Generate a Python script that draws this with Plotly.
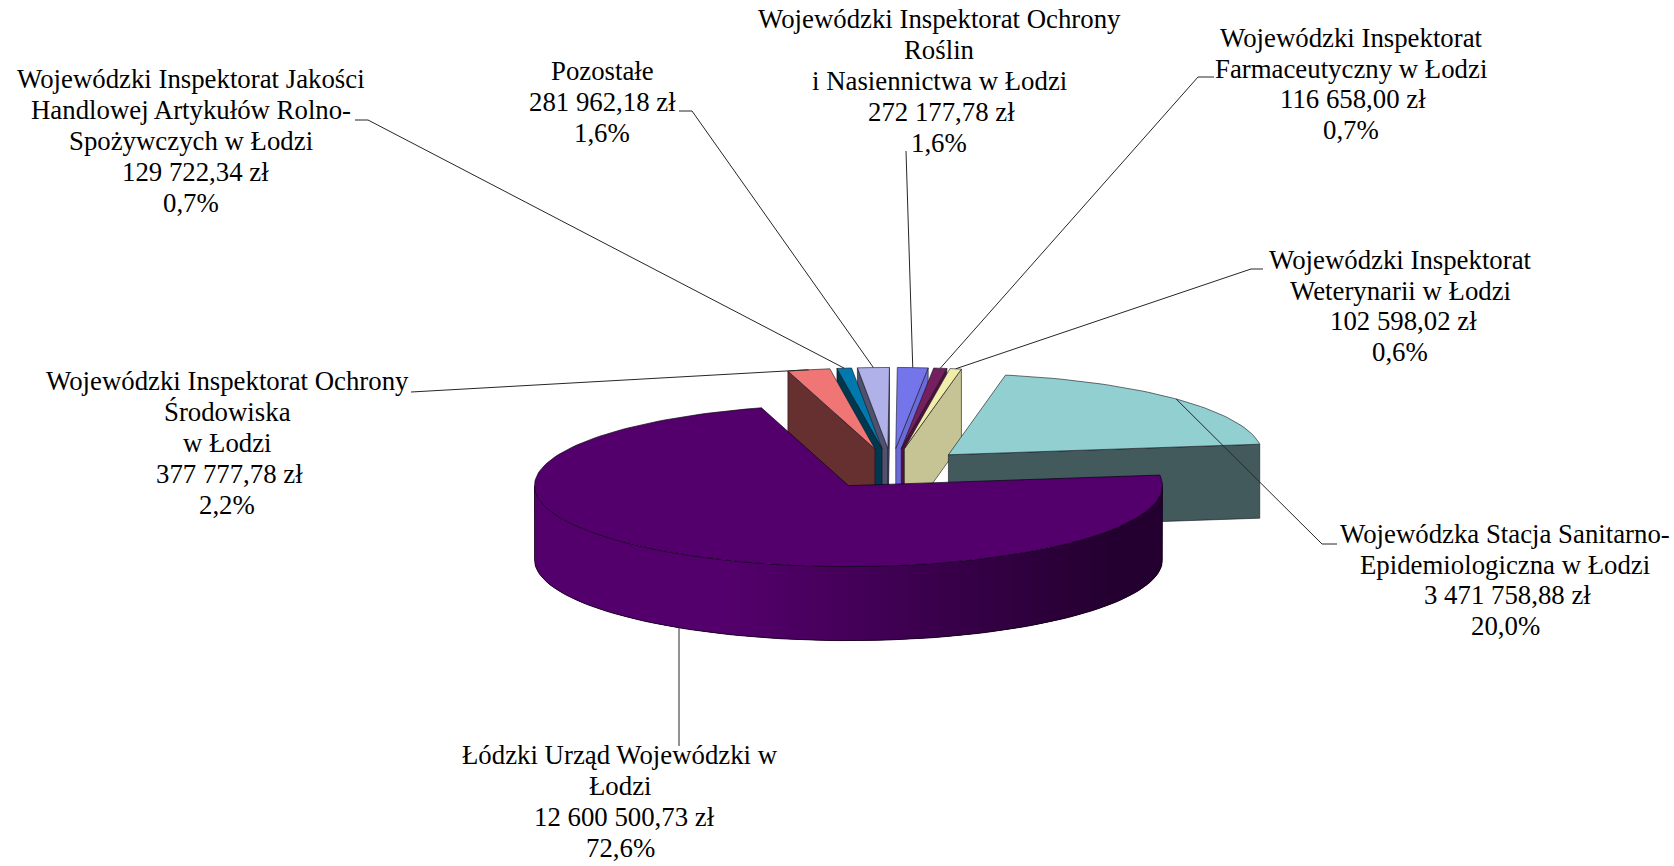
import numpy as np
import plotly.graph_objects as go

# ---------- data (clockwise order, starting from the first slice) ----------
names = [
    ["Łódzki Urząd Wojewódzki w", "Łodzi"],
    ["Wojewódzki Inspektorat Ochrony", "Środowiska", "w Łodzi"],
    ["Wojewódzki Inspektorat Jakości", "Handlowej Artykułów Rolno-", "Spożywczych w Łodzi"],
    ["Pozostałe"],
    ["Wojewódzki Inspektorat Ochrony", "Roślin", "i Nasiennictwa w Łodzi"],
    ["Wojewódzki Inspektorat", "Farmaceutyczny w Łodzi"],
    ["Wojewódzki Inspektorat", "Weterynarii w Łodzi"],
    ["Wojewódzka Stacja Sanitarno-", "Epidemiologiczna w Łodzi"],
]
amounts = [12600500.73, 377777.78, 129722.34, 281962.18, 272177.78, 116658.00, 102598.02, 3471758.88]
top_colors = ["#54006c", "#ef7674", "#0079ae", "#b1b1ea", "#7575eb", "#761f5f", "#f0eeaa", "#92cfd0"]
wall_colors = ["#54006c", "#663030", "#00384f", "#50506f", "#6a6ad8", "#4f1040", "#c6c494", "#425a5c"]

# ---------- chart geometry, in page pixels ----------
W, H = 1674, 866
CX, CY = 891.5, 468.7     # pie centre
A, B = 314.0, 81.0        # ellipse radii
DEPTH = 74.0
EXPLODE = 0.25
START = 7.5               # angle of the first slice edge, degrees
DRAW_ORDER = [3, 2, 1, 4, 5, 6, 7, 0]
EDGE = "rgba(20,20,30,0.6)"
FONT_SIZE = 26.8
LINE_STEP = 30.9

label_pos = [(620, 801.5), (227, 443), (191, 141), (602, 102), (939, 81), (1351, 84), (1400, 306), (1505, 580)]
amount_dx = [4, 2, 4, 0, 2, 2, 3, 2]
elbows = [
    [(679, 746)],
    [(411, 392)],
    [(368, 120), (355, 120)],
    [(692, 111), (679, 111)],
    [(906, 151)],
    [(1198, 77), (1214, 77)],
    [(1251, 269), (1263, 269)],
    [(1322, 544), (1337, 544)],
]

total = sum(amounts)
shares = [v / total for v in amounts]


def fmt_amount(v):
    s = f"{v:,.2f}".replace(",", " ").replace(".", ",")
    return s + " zł"


def fmt_share(s):
    return f"{s * 100:.1f}".replace(".", ",") + "%"


def pt(apex, deg, r=1.0):
    t = np.radians(deg)
    return apex[0] + r * A * np.cos(t), apex[1] - r * B * np.sin(t)


# clockwise angle ranges: (a_high, a_low)
ranges = []
cur = START
for s in shares:
    ranges.append((cur, cur - s * 360))
    cur -= s * 360
ranges = [(a0 + 360 if i else a0, a1 + 360 if i else a1) for i, (a0, a1) in enumerate(ranges)]
mids = [(a0 + a1) / 2 for a0, a1 in ranges]
apexes = [pt((CX, CY), m, EXPLODE) for m in mids]

fig = go.Figure()


def poly(xs, ys, fill, line=EDGE, width=1):
    fig.add_trace(go.Scatter(
        x=list(xs), y=list(ys), mode="lines", fill="toself", fillcolor=fill,
        line=dict(color=line, width=width), hoverinfo="skip", showlegend=False))


def lerp_color(c0, c1, f):
    return "rgb(%d,%d,%d)" % tuple(round(c0[i] + (c1[i] - c0[i]) * f) for i in range(3))


def radial_wall(i, deg):
    ax, ay = apexes[i]
    ox, oy = pt(apexes[i], deg)
    poly([ax, ox, ox, ax, ax], [ay, oy, oy + DEPTH, ay + DEPTH, ay], wall_colors[i])


for i in DRAW_ORDER:
    a_hi, a_lo = ranges[i]
    apex = apexes[i]
    if i == 0:
        # outer rim of the big slice: shaded, overlapping strips following the ellipse
        grid = np.linspace(0, -180, 97)
        for k in range(len(grid) - 1):
            seg = grid[k:k + 4]
            pts = [pt(apex, g) for g in seg]
            xs = [p[0] for p in pts]
            ys = [p[1] for p in pts]
            xm = (pt(apex, grid[k])[0] + pt(apex, grid[k + 1])[0]) / 2
            f = (apex[0] + A - xm) / (2 * A)
            f = min(1.0, max(0.0, (f - 0.08) / 0.62))
            col = lerp_color((36, 0, 48), (84, 0, 108), f)
            fig.add_trace(go.Scatter(
                x=xs + xs[::-1] + [xs[0]],
                y=ys + [y + DEPTH for y in ys[::-1]] + [ys[0]],
                mode="lines", fill="toself", fillcolor=col, line=dict(width=0),
                hoverinfo="skip", showlegend=False))
        # silhouette of the rim
        xs, ys = zip(*[pt(apex, g) for g in grid])
        fig.add_trace(go.Scatter(
            x=[xs[0]] + list(xs) + [xs[-1]],
            y=[ys[0]] + [y + DEPTH for y in ys] + [ys[-1]],
            mode="lines", line=dict(color="rgba(15,0,20,0.75)", width=1),
            hoverinfo="skip", showlegend=False))
    else:
        # radial faces turned towards the viewer
        if np.sin(np.radians(a_hi + 90)) < 0:
            radial_wall(i, a_hi)
        if np.sin(np.radians(a_lo - 90)) < 0:
            radial_wall(i, a_lo)
    arc = np.linspace(a_hi, a_lo, max(4, int(abs(a_hi - a_lo) / 1.5)))
    pts = [pt(apex, a) for a in arc]
    xs = [apex[0]] + [p[0] for p in pts] + [apex[0]]
    ys = [apex[1]] + [p[1] for p in pts] + [apex[1]]
    poly(xs, ys, top_colors[i], line="rgba(10,0,20,0.7)" if i == 0 else EDGE)

# leader lines and labels
for i in range(len(names)):
    first = elbows[i][0]
    if i == 0:
        # vertical leader meets the lower edge of the rim
        u = (first[0] - apexes[0][0]) / A
        ex, ey = first[0], apexes[0][1] + B * np.sqrt(1 - u * u) + DEPTH
    else:
        ex, ey = pt(apexes[i], mids[i])
    path = [(ex, ey)] + elbows[i]
    fig.add_trace(go.Scatter(
        x=[p[0] for p in path], y=[p[1] for p in path], mode="lines",
        line=dict(color="#262626", width=1), hoverinfo="skip", showlegend=False))
    lines = names[i] + [fmt_amount(amounts[i]), fmt_share(shares[i])]
    amount_line = len(names[i])
    for k, line in enumerate(lines):
        fig.add_annotation(
            x=label_pos[i][0] + (amount_dx[i] if k == amount_line else 0),
            y=label_pos[i][1] + (k - (len(lines) - 1) / 2) * LINE_STEP,
            xref="x", yref="y", text=line,
            showarrow=False, align="center", xanchor="center", yanchor="middle",
            font=dict(family="Liberation Serif", size=FONT_SIZE, color="#000000"))

fig.update_layout(
    width=W, height=H, autosize=False,
    margin=dict(l=0, r=0, t=0, b=0),
    paper_bgcolor="#ffffff", plot_bgcolor="#ffffff",
    xaxis=dict(range=[0, W], visible=False, fixedrange=True),
    yaxis=dict(range=[H, 0], visible=False, fixedrange=True),
    showlegend=False,
)

fig.write_html("out.html", config={"displayModeBar": False},
               post_script="document.body.style.margin='0';document.body.style.overflow='hidden';")
